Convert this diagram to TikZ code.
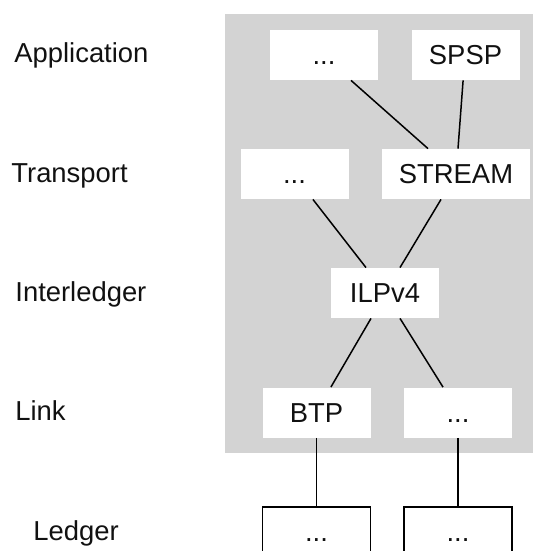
\documentclass[tikz,border=0pt]{standalone}
\usepackage{fontspec}
\setmainfont{Liberation Sans}
\usetikzlibrary{positioning}
\definecolor{StackGray}{HTML}{D3D3D3}
\definecolor{Ink}{HTML}{111111}
\tikzset{
  layerbox/.style={fill=white, minimum width=54pt, minimum height=25pt,
    inner sep=0pt, text height=9.8pt, text depth=0pt, text=Ink},
  ledgerbox/.style={layerbox, draw=black, line width=0.75pt},
  layername/.style={anchor=base west, inner sep=0pt, text=Ink},
  wire/.style={draw=black, line width=0.75pt}
}

\begin{document}
\begin{tikzpicture}[x=0.5pt,y=-0.5pt,font=\fontsize{13.7}{16}\selectfont]
  \useasboundingbox (0,0) rectangle (533,551);
  \clip (0,0) rectangle (533,551);
  \fill[StackGray] (225,14) rectangle (540,453);

  \node[layername] (applabel) at (14,63) {Application};
  \node[layername] (translabel) at (11,182) {Transport};
  \node[layername] (ilplabel) at (15,301) {Interledger};
  \node[layername] (linklabel) at (15,420) {Link};
  \node[layername] (ledgerlabel) at (33,540) {Ledger};

  \node[layerbox] (appdots) at (324,55) {...};
  \node[layerbox] (spsp) at (465.5,55) {SPSP};
  \node[layerbox] (transdots) at (294.5,174) {...};
  \node[layerbox, minimum width=74pt] (stream) at (456,174) {STREAM};
  \node[layerbox] (ilpv) at (385,293) {ILPv4};
  \node[layerbox] (btp) at (316.5,412.5) {BTP};
  \node[layerbox] (linkdots) at (458,412.5) {...};
  \node[ledgerbox] (ledgerone) at (316.5,532) {...};
  \node[ledgerbox] (ledgertwo) at (458,532) {...};

  \draw[wire] ([xshift=13.5pt]appdots.south) -- ([xshift=-14pt]stream.north);
  \draw[wire] ([xshift=-1.2pt]spsp.south) -- ([xshift=1pt]stream.north);
  \draw[wire] ([xshift=9.2pt]transdots.south) -- ([xshift=-9.5pt]ilpv.north);
  \draw[wire] ([xshift=-7.5pt]stream.south) -- ([xshift=7.5pt]ilpv.north);
  \draw[wire] ([xshift=-7pt]ilpv.south) -- ([xshift=7.2pt]btp.north);
  \draw[wire] ([xshift=7.5pt]ilpv.south) -- ([xshift=-7.5pt]linkdots.north);
  \draw[wire] (btp.south) -- (ledgerone.north);
  \draw[wire] (linkdots.south) -- (ledgertwo.north);
\end{tikzpicture}
\end{document}
